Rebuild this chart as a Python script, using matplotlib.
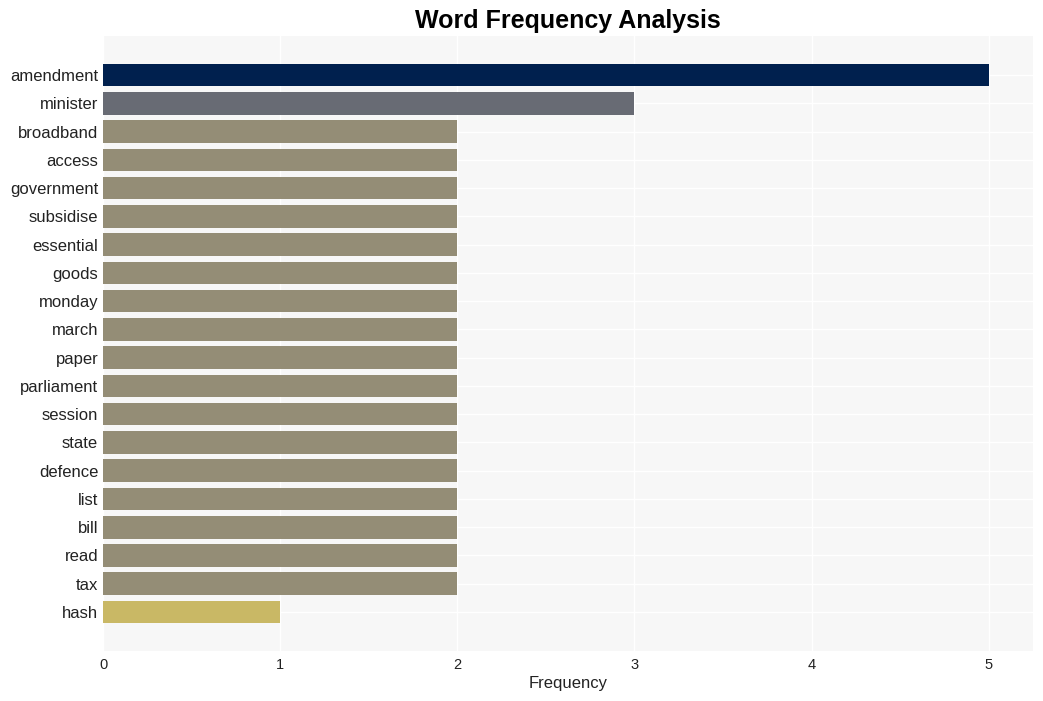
import matplotlib as mpl
mpl.use('Agg')
import matplotlib.pyplot as plt

plt.rcParams['font.family'] = ['Liberation Sans', 'DejaVu Sans']

words = ['amendment', 'minister', 'broadband', 'access', 'government', 'subsidise',
         'essential', 'goods', 'monday', 'march', 'paper', 'parliament', 'session',
         'state', 'defence', 'list', 'bill', 'read', 'tax', 'hash']
counts = [5, 3, 2, 2, 2, 2, 2, 2, 2, 2, 2, 2, 2, 2, 2, 2, 2, 2, 2, 1]
colors = ['#00204e', '#686b74'] + ['#948d76'] * 17 + ['#c9b865']

fig = plt.figure(figsize=(10.43, 7.01), dpi=100)
ax = fig.add_axes([0.0988, 0.0713, 0.8916, 0.8773])
ax.set_facecolor('#f7f7f7')

ypos = list(range(len(words)))
ax.barh(ypos, counts, height=0.8, color=colors, zorder=2)
ax.set_yticks(ypos)
ax.set_yticklabels(words, fontsize=12, color='#222222')
ax.set_ylim(len(words) - 1 + 1.38, -1.38)
ax.set_xlim(0, 5.25)
ax.set_xticks([0, 1, 2, 3, 4, 5])
ax.tick_params(axis='x', labelsize=10.5, length=0, pad=5, colors='#222222')
ax.tick_params(axis='y', length=0, pad=3.5)

ax.grid(True, color='white', linewidth=1, zorder=0)
ax.set_axisbelow(True)
for s in ax.spines.values():
    s.set_visible(False)

ax.set_xlabel('Frequency', fontsize=12, color='#222222', labelpad=3)
ax.set_title('Word Frequency Analysis', fontsize=18, fontweight='bold', pad=6)

plt.savefig('out.png', dpi=100)
